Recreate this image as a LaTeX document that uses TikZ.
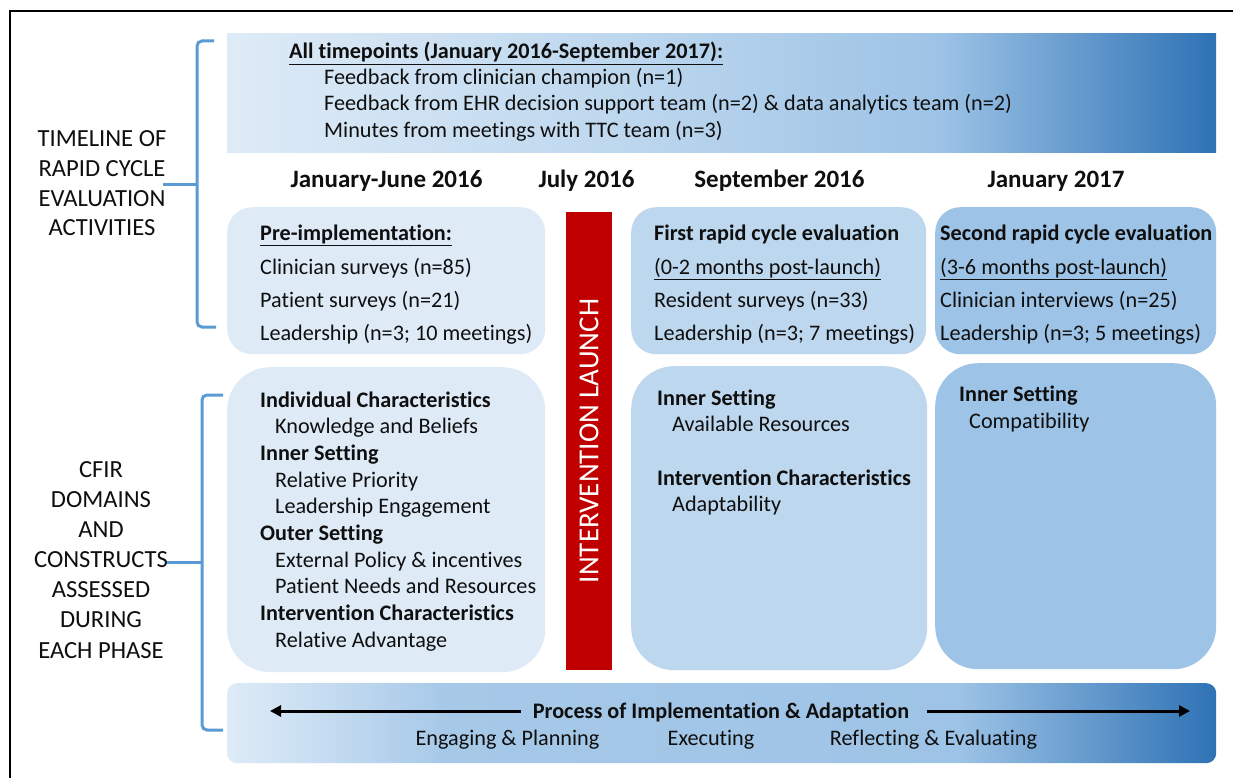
\documentclass[tikz,border=0pt]{standalone}
\usepackage{fontspec}
\setmainfont{Carlito}[Ligatures={NoCommon}]
\usetikzlibrary{arrows.meta}

\definecolor{paleblue}{RGB}{222,235,247}
\definecolor{midblue}{RGB}{189,215,238}
\definecolor{boxblue}{RGB}{157,195,230}
\definecolor{deepblue}{RGB}{46,114,181}
\definecolor{bracketblue}{RGB}{91,155,213}
\definecolor{launchred}{RGB}{192,0,0}
\definecolor{inkblack}{RGB}{15,15,15}

% horizontal fades: the path spans 25bp..75bp of the shading
\pgfdeclarehorizontalshading{bannerfade}{100bp}{%
  color(0bp)=(paleblue); color(25bp)=(paleblue);
  color(45bp)=(midblue); color(61bp)=(boxblue);
  color(75bp)=(deepblue); color(100bp)=(deepblue)}
\pgfdeclarehorizontalshading{processfade}{100bp}{%
  color(0bp)=(paleblue); color(25bp)=(paleblue);
  color(36bp)=(boxblue!85!paleblue); color(62bp)=(boxblue);
  color(75bp)=(deepblue); color(100bp)=(deepblue)}

\tikzset{
  sidelabel/.style={font=\fontsize{24.6}{29}\selectfont, text=inkblack, anchor=base, inner sep=0pt},
  txt/.style={font=\fontsize{22.2}{26}\selectfont, text=inkblack, anchor=base west, inner sep=0pt},
  hd/.style={txt, font=\fontsize{22.2}{26}\selectfont\bfseries},
  period/.style={font=\fontsize{25}{30}\selectfont\bfseries, text=inkblack, anchor=base, inner sep=0pt},
  panel/.style={anchor=north west, inner sep=0pt, draw=none},
  bracket/.style={draw=bracketblue, line width=3pt, rounded corners=5pt},
  bigarrow/.style={line width=3pt, -{Triangle[length=11pt,width=11pt]}},
}

\begin{document}
\begin{tikzpicture}[x=1pt, y=-1pt]
\useasboundingbox (0,0) rectangle (1233,778);
\fill[white] (0,0) rectangle (1233,778);

% outer frame (left and top edges)
\draw[line width=2pt, black] (10,778) -- (10,11) -- (1233,11);

% ---------- top banner ----------
\node[panel, shading=bannerfade, minimum width=989pt, minimum height=119pt] (banner) at (227,33) {};
\node[hd] (alltp) at (289,59) {\underline{All timepoints (January 2016-September 2017):}};
\node[txt] (fb1) at (324,85) {Feedback from clinician champion (n=1)};
\node[txt] (fb2) at (324,111) {Feedback from EHR decision support team (n=2) \& data analytics team (n=2)};
\node[txt] (mins) at (324,138) {Minutes from meetings with TTC team (n=3)};

% ---------- period headings ----------
\node[period] (p1) at (386.5,187) {January-June 2016};
\node[period] (p2) at (586.5,187) {July 2016};
\node[period] (p3) at (779.5,187) {September 2016};
\node[period] (p4) at (1056,187) {January 2017};

% ---------- data collection panels ----------
\node[panel, fill=paleblue, rounded corners=25pt, minimum width=318pt, minimum height=147pt] (pre) at (227,207) {};
\node[panel, fill=midblue, rounded corners=25pt, minimum width=295pt, minimum height=147pt] (first) at (631,207) {};
\node[panel, fill=boxblue, rounded corners=25pt, minimum width=281pt, minimum height=147pt] (second) at (935,207) {};

\node[hd] (preh) at (260,240) {\underline{Pre-implementation:}};
\node[txt] (pre1) at (260,274) {Clinician surveys (n=85)};
\node[txt] (pre2) at (260,307) {Patient surveys (n=21)};
\node[txt] (pre3) at (260,340) {Leadership (n=3; 10 meetings)};

\node[hd] (firsth) at (654,240) {First rapid cycle evaluation};
\node[txt] (first0) at (654,274) {\underline{(0-2 months post-launch)}};
\node[txt] (first1) at (654,307) {Resident surveys (n=33)};
\node[txt] (first2) at (654,340) {Leadership (n=3; 7 meetings)};

\node[hd] (secondh) at (940,240) {Second rapid cycle evaluation};
\node[txt] (second0) at (940,274) {\underline{(3-6 months post-launch)}};
\node[txt] (second1) at (940,307) {Clinician interviews (n=25)};
\node[txt] (second2) at (940,340) {Leadership (n=3; 5 meetings)};

% ---------- CFIR panels ----------
\node[panel, fill=paleblue, rounded corners=43pt, minimum width=318pt, minimum height=305pt] (cfirpre) at (227,367) {};
\node[panel, fill=midblue, rounded corners=43pt, minimum width=296pt, minimum height=304pt] (cfirfirst) at (631,366) {};
\node[panel, fill=boxblue, rounded corners=43pt, minimum width=281pt, minimum height=306pt] (cfirsecond) at (935,363) {};

\node[hd] (d1) at (260,407) {Individual Characteristics};
\node[txt] (d2) at (275,433) {Knowledge and Beliefs};
\node[hd] (d3) at (260,460) {Inner Setting};
\node[txt] (d4) at (275,487) {Relative Priority};
\node[txt] (d5) at (275,513) {Leadership Engagement};
\node[hd] (d6) at (260,540) {Outer Setting};
\node[txt] (d7) at (275,567) {External Policy \& incentives};
\node[txt] (d8) at (275,593) {Patient Needs and Resources};
\node[hd] (d9) at (260,620) {Intervention Characteristics};
\node[txt] (d10) at (275,647) {Relative Advantage};

\node[hd] (e1) at (657,405) {Inner Setting};
\node[txt] (e2) at (672,431) {Available Resources};
\node[hd] (e3) at (657,485) {Intervention Characteristics};
\node[txt] (e4) at (672,511) {Adaptability};

\node[hd] (f1) at (959,401) {Inner Setting};
\node[txt] (f2) at (969,428) {Compatibility};

% ---------- launch bar ----------
\node[fill=launchred, text=white, rotate=90, inner sep=0pt,
      minimum width=458pt, minimum height=46pt,
      font=\fontsize{29}{34}\selectfont] (launch) at (589,441) {INTERVENTION LAUNCH};

% ---------- process bar ----------
\node[panel, shading=processfade, rounded corners=10pt, minimum width=989pt, minimum height=80pt] (process) at (227,683) {};
\node[hd, anchor=base] (proc) at (721,718) {Process of Implementation \& Adaptation};
\coordinate (procleft) at (270,711);
\coordinate (procright) at (1190,711);
\draw[bigarrow] ([xshift=-12pt]proc.west |- procleft) -- (procleft);
\draw[bigarrow] ([xshift=18pt]proc.east |- procright) -- (procright);
\node[txt, anchor=base] (eng) at (507.5,745) {Engaging \& Planning};
\node[txt, anchor=base] (exe) at (711,745) {Executing};
\node[txt, anchor=base] (refl) at (933.5,745) {Reflecting \& Evaluating};

% ---------- side labels and brackets ----------
\node[sidelabel] (t1) at (102,147) {TIMELINE OF};
\node[sidelabel] (t2) at (102,176) {RAPID CYCLE};
\node[sidelabel] (t3) at (102,207) {EVALUATION};
\node[sidelabel] (t4) at (102,235) {ACTIVITIES};

\node[sidelabel] (c1) at (101,477) {CFIR};
\node[sidelabel] (c2) at (101,507) {DOMAINS};
\node[sidelabel] (c3) at (101,537) {AND};
\node[sidelabel] (c4) at (101,567) {CONSTRUCTS};
\node[sidelabel] (c5) at (101,597) {ASSESSED};
\node[sidelabel] (c6) at (101,627) {DURING};
\node[sidelabel] (c7) at (101,658) {EACH PHASE};

\draw[bracket] (214,41) -- (197,41) -- (197,327) -- (216,327);
\draw[bracket] (163,185) -- (197,185);
\draw[bracket] (223,395) -- (202,395) -- (202,730) -- (223,730);
\draw[bracket] (167,562) -- (202,562);
\end{tikzpicture}
\end{document}
